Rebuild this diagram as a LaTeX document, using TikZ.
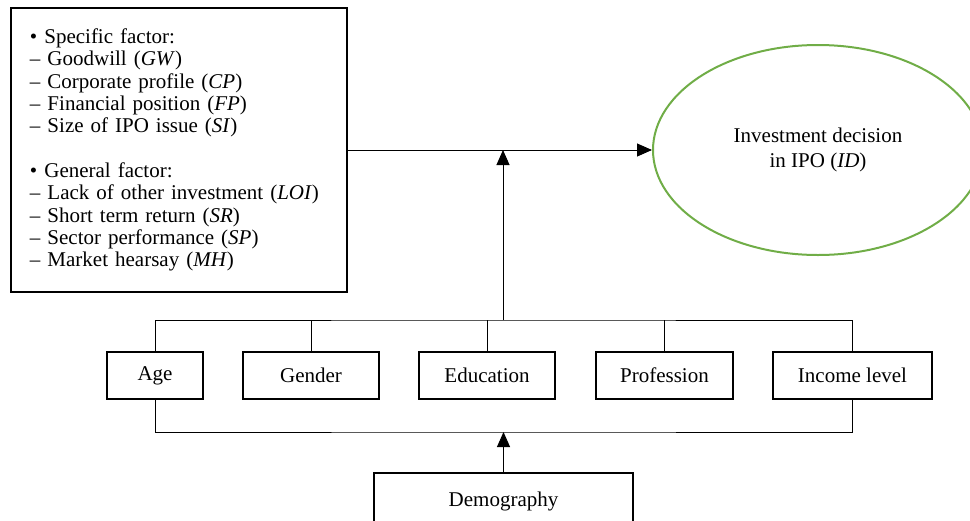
\documentclass[tikz,border=0pt]{standalone}
\usepackage{fontspec}
\setmainfont{Liberation Serif}
\usepackage{tikz}
\usetikzlibrary{arrows.meta, positioning, calc, shapes.geometric}
\definecolor{decisiongreen}{HTML}{70AD47}

\tikzset{
    factorbox/.style={draw, line width=1.1pt, inner sep=0pt, minimum height=47pt},
    link/.style={line width=1pt},
}

\begin{document}
\begin{tikzpicture}[x=1pt, y=-1pt, >={Triangle[length=15pt, width=13pt]},
    font=\fontsize{21}{22.4}\selectfont]
    \useasboundingbox (0, 0) rectangle (970, 520);
    \clip (0, 0) rectangle (970, 520);

    % Factor list
    \node[draw, line width=1.1pt, minimum width=336pt, minimum height=284pt, text width=298pt, align=left] (factors) at (179, 150)
        {\textbullet\ Specific factor:\\
         -- Goodwill (\textit{GW})\\
         -- Corporate profile (\textit{CP})\\
         -- Financial position (\textit{FP})\\
         -- Size of IPO issue (\textit{SI})\\[22pt]
         \textbullet\ General factor:\\
         -- Lack of other investment (\textit{LOI})\\
         -- Short term return (\textit{SR})\\
         -- Sector performance (\textit{SP})\\
         -- Market hearsay (\textit{MH})};

    % Outcome
    \node[ellipse, draw=decisiongreen, line width=2pt, minimum width=330pt, minimum height=210pt, inner sep=0pt,
        align=center, font=\fontsize{21}{25}\selectfont] (id) at (818, 150)
        {Investment decision\\in IPO (\textit{ID})};

    % Demographic variables
    \node[factorbox, minimum width=96pt] (age) at (155, 375.5) {Age};
    \node[factorbox, minimum width=136pt] (gender) at (311, 375.5) {Gender};
    \node[factorbox, minimum width=136pt] (edu) at (487, 375.5) {Education};
    \node[factorbox, minimum width=137pt] (prof) at (664.5, 375.5) {Profession};
    \node[factorbox, minimum width=159pt] (income) at (852.5, 375.5) {Income level};
    \node[factorbox, minimum width=259pt, minimum height=56pt] (demo) at (503.5, 501) {Demography};

    \coordinate (topbus) at (503, 320);
    \coordinate (botbus) at (503.5, 432);

    % Connectors
    \draw[link, ->] (factors.east) -- (id.west);
    \draw[link] (age.north) |- (topbus) -| (income.north);
    \draw[link] (gender.north) -- (gender.north |- topbus);
    \draw[link] (edu.north) -- (edu.north |- topbus);
    \draw[link] (prof.north) -- (prof.north |- topbus);
    \draw[link, ->] (topbus) -- (topbus |- factors.east);
    \draw[link] (age.south) |- (botbus) -| (income.south);
    \draw[link, ->] (demo.north) -- (demo.north |- botbus);
\end{tikzpicture}
\end{document}
